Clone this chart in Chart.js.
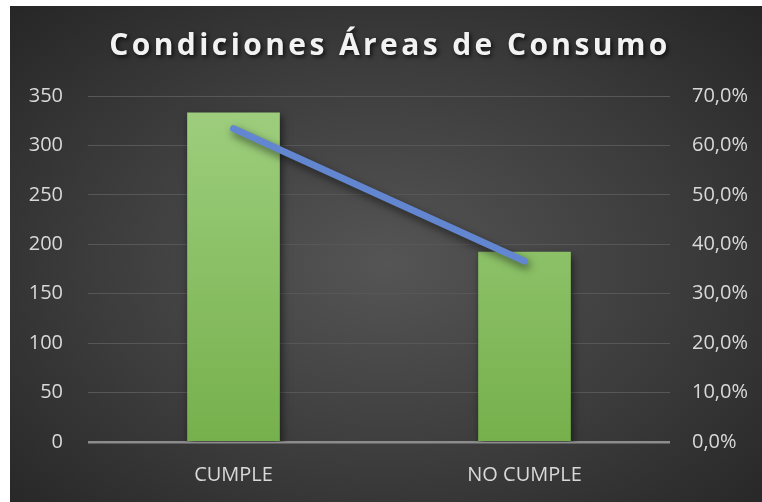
<!DOCTYPE html>
<html>
<head>
<meta charset="utf-8">
<script src="https://cdn.jsdelivr.net/npm/chart.js@4.4.0/dist/chart.umd.min.js"></script>
<style>
  body { margin: 0; background: #fff; }
  #box {
    position: absolute; left: 10px; top: 6px; width: 752px; height: 496px;
    background: radial-gradient(ellipse at 50% 52%, #555555 0%, #3c3c3c 55%, #262626 100%);
  }
</style>
</head>
<body>
<div id="box"><canvas id="areas" width="752" height="496"></canvas></div>
<script>
var categories = ["CUMPLE", "NO CUMPLE"];
var cantidad = [333, 192];
var porcentaje = [0.634, 0.366];
var leftTicks = [0, 50, 100, 150, 200, 250, 300, 350];
var rightTicks = [0, 0.1, 0.2, 0.3, 0.4, 0.5, 0.6, 0.7];
var titulo = "Condiciones Áreas de Consumo";

Chart.defaults.font.family = "'Open Sans', sans-serif";
Chart.defaults.color = "#d9d9d9";

// title drawn by hand so it can have letter spacing + shadow
var titlePlugin = {
    id: 'titulo',
    afterDraw: function(chart) {
        var ctx = chart.ctx;
        ctx.save();
        ctx.font = "bold 30px 'Open Sans', sans-serif";
        ctx.letterSpacing = '3.4px';
        ctx.fillStyle = '#f2f2f2';
        ctx.textAlign = 'center';
        ctx.textBaseline = 'middle';
        ctx.shadowColor = 'rgba(0,0,0,0.7)';
        ctx.shadowBlur = 4;
        ctx.shadowOffsetX = 2;
        ctx.shadowOffsetY = 2;
        ctx.fillText(titulo, 380, 40);
        ctx.restore();
    }
};

var shadowPlugin = {
    id: 'sombra',
    beforeDatasetDraw: function(chart) {
        var ctx = chart.ctx;
        ctx.save();
        ctx.shadowColor = 'rgba(0,0,0,0.55)';
        ctx.shadowBlur = 8;
        ctx.shadowOffsetX = 2;
        ctx.shadowOffsetY = 4;
    },
    afterDatasetDraw: function(chart) {
        chart.ctx.restore();
    }
};

function greenGrad(context) {
    var area = context.chart.chartArea;
    if (!area) return '#8cc168';
    var g = context.chart.ctx.createLinearGradient(0, area.top, 0, area.bottom);
    g.addColorStop(0, '#9fcf7f');
    g.addColorStop(1, '#76b04c');
    return g;
}

var ctx = document.getElementById("areas").getContext("2d");
window.areasChart = new Chart(ctx, {
    data: {
        labels: categories,
        datasets: [{
            type: 'line',
            data: porcentaje,
            yAxisID: 'y2',
            borderColor: '#6286cf',
            borderWidth: 7,
            borderCapStyle: 'round',
            pointRadius: 0,
            order: 0
        }, {
            type: 'bar',
            data: cantidad,
            yAxisID: 'y',
            backgroundColor: greenGrad,
            barThickness: 92,
            order: 1
        }]
    },
    options: {
        responsive: false,
        animation: false,
        layout: { padding: { top: 90, left: 0, right: 0, bottom: 0 } },
        plugins: {
            legend: { display: false },
            title: { display: false },
            tooltip: { enabled: false }
        },
        scales: {
            x: {
                grid: { display: false },
                border: { display: false },
                ticks: { padding: 13, font: { size: 20 } },
                afterFit: function(s) { s.height = 60; }
            },
            y: {
                position: 'left',
                min: 0, max: 350,
                afterBuildTicks: function(s) { s.ticks = leftTicks.map(function(v) { return { value: v }; }); },
                grid: {
                    color: function(c) { return c.tick.value === 0 ? '#8c8c8c' : '#575757'; },
                    lineWidth: function(c) { return c.tick.value === 0 ? 2.5 : 1; },
                    drawTicks: false
                },
                border: { display: false },
                ticks: { padding: 25, font: { size: 20 } },
                afterFit: function(s) { s.width = 78; }
            },
            y2: {
                position: 'right',
                min: 0, max: 0.7,
                afterBuildTicks: function(s) { s.ticks = rightTicks.map(function(v) { return { value: v }; }); },
                grid: { display: false, drawTicks: false },
                border: { display: false },
                ticks: {
                    padding: 22,
                    font: { size: 20 },
                    callback: function(v) { return (v * 100).toFixed(1).replace('.', ',') + '%'; }
                },
                afterFit: function(s) { s.width = 92; }
            }
        }
    },
    plugins: [titlePlugin, shadowPlugin]
});
</script>
</body>
</html>
